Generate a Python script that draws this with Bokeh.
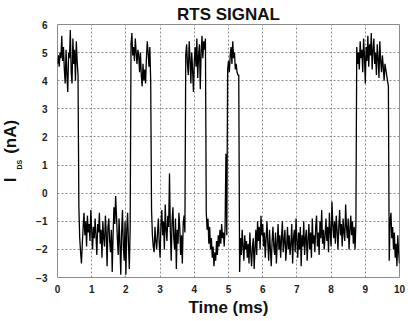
import numpy as np
from bokeh.plotting import figure
from bokeh.models import Range1d, FixedTicker, Title
from bokeh.embed import file_html
from bokeh.resources import INLINE

SAMPLE_MS = 0.025

high_1 = [4.6, 4.9, 4.5, 5.0, 4.8, 5.6, 4.7, 5.2, 4.4, 3.9, 5.1, 4.2, 3.6, 5.0, 4.8,
          5.8, 4.3, 3.9, 5.5, 4.6, 5.1, 4.0, 5.4, 4.7, 4.2]
low_1 = [-0.5, -1.6, -2.1, -2.5, -1.8, -1.2, -0.7, -1.5, -1.0, -1.9, -0.8, -1.4, -1.1,
         -1.7, -0.6, -1.3, -2.0, -1.2, -1.6, -0.9, -1.5, -2.2, -1.1, -1.4, -0.7, -1.8,
         -1.3, -2.3, -1.0, -1.6, -1.9, -0.8, -1.4, -2.6, -1.2, -0.9, -1.7, -2.1, -1.3,
         -2.8, -1.5, -0.5, -1.1, -0.1, -0.8, -1.6, -2.2, -0.9, -1.8, -2.9, -1.4, -0.6,
         -1.9, -2.4, -1.0, -2.9, -1.3, -0.7, -1.8, -2.7, -1.2]
high_2 = [5.3, 5.7, 4.9, 5.2, 4.7, 5.5, 5.0, 4.6, 5.1, 4.9, 4.3, 5.0, 4.2, 3.8, 4.6,
          4.0, 4.4, 3.9, 4.8, 5.4, 5.0, 4.5, 5.2, 4.0]
low_2 = [-0.6, -1.5, -1.9, -2.1, -1.2, -1.7, -2.0, -1.4, -0.9, -1.8, -2.3, -1.1, -0.6,
         -1.5, -1.0, -2.0, -0.4, -1.3, -1.7, -0.8, -1.2, 0.7, -1.4, -2.4, -1.0, -0.5,
         -1.6, -2.0, -0.9, -2.7, -1.3, -1.8, -0.7, -1.2, -2.2, -1.5, -2.5, -1.1, -0.8,
         -1.4]
high_3 = [4.9, 5.3, 4.6, 4.2, 5.4, 4.8, 3.9, 5.0, 4.4, 3.6, 4.7, 5.2, 4.5, 5.5, 4.1,
          4.9, 5.3, 3.7, 5.0, 5.6, 4.8, 5.4, 5.1, 5.5]
low_3 = [-0.7, -1.3, -0.9, -1.8, -1.2, -2.0, -1.6, -2.3, -1.9, -2.6, -2.1, -2.4, -1.7,
         -2.2, -1.5, -1.9, -1.3, -1.8, -1.1, -1.6, -1.4, -1.9, -1.2, 1.4, -1.5]
high_4 = [4.4, 4.7, 4.3, 4.9, 5.2, 4.6, 5.4, 4.8, 5.0, 4.4, 4.6, 4.3, 4.2, 4.2]
low_4 = [-2.8, -1.6, -2.2, -1.3, -1.9, -2.4, -1.5, -2.0, -1.7, -2.3,
         -1.8, -2.5, -1.4, -2.1, -2.6, -1.9, -1.6, -2.7, -2.0, -1.3,
         -2.2, -1.0, -1.7, -1.2, -2.0, -0.8, -1.5, -1.1, -1.9, -1.4,
         -2.3, -1.6, -1.0, -1.8, -2.4, -1.3, -2.0, -2.6, -1.7, -1.2,
         -1.9, -2.2, -1.4, -2.5, -1.8, -1.1, -2.0, -1.5, -2.3, -1.6,
         -1.0, -2.1, -1.7, -1.3, -2.4, -1.9, -1.2, -2.0, -1.5, -2.2,
         -1.8, -1.1, -2.5, -1.6, -1.3, -2.1, -0.9, -1.7, -2.3, -1.4,
         -2.0, -1.2, -2.6, -1.5, -1.9, -1.0, -2.2, -1.6, -1.3, -2.4,
         -1.7, -1.1, -2.0, -1.4, -2.3, -0.9, -1.8, -1.5, -2.1, -1.2,
         -0.8, -1.9, -1.4, -2.2, -1.0, -1.6, -0.6, -1.8, -1.3, -2.0,
         -1.5, -0.9, -1.7, -1.2, -2.1, -0.7, -1.4, -1.9, -0.3, -1.1,
         -1.6, -1.0, -1.8, -0.8, -1.3, -2.0, -1.2, -0.6, -1.5, -1.1,
         -1.9, -0.9, -1.4, -1.7, -0.4, -1.2, -1.6, -0.9, -2.0, -1.3,
         -0.8, -1.5, -1.0, -1.8, -1.2, -2.0, -1.1]
high_5 = [5.2, 4.6, 5.0, 4.4, 5.4, 4.8, 5.1, 4.3, 5.5, 4.9, 3.9, 5.2, 4.7, 5.6, 4.5,
          5.3, 4.9, 5.7, 4.4, 5.1, 5.5, 4.6, 5.0, 4.2, 5.3, 4.8, 4.1, 5.4, 4.7, 4.3,
          4.9, 4.5, 4.0, 4.6, 4.4, 4.2, 4.0, 3.8]
low_5 = [-2.4, -1.0, -0.7, -1.6, -1.2, -2.0, -1.4, -2.3, -1.8, -2.6, -1.5, -2.1, -2.5]

x_ticks = [0, 1, 2, 3, 4, 5, 6, 7, 8, 9, 10]
y_ticks = [-3, -2, -1, 0, 1, 2, 3, 4, 5, 6]

current_na = np.concatenate([high_1, low_1, high_2, low_2, high_3, low_3,
                             high_4, low_4, high_5, low_5])
time_ms = np.arange(len(current_na)) * SAMPLE_MS

FONT = "Liberation Sans"
NBSP = "\u00a0"

p = figure(width=408, height=321, output_backend="svg", toolbar_location=None,
           x_range=Range1d(0, 10), y_range=Range1d(-3, 6),
           min_border_left=57, min_border_right=9, min_border_top=24,
           min_border_bottom=44, background_fill_color="white",
           border_fill_color="white")

p.line(time_ms, current_na, line_color="black", line_width=1.3)

for ax, ticks, standoff in ((p.xaxis, x_ticks, 7), (p.yaxis, y_ticks, 10)):
    ax.ticker = FixedTicker(ticks=ticks)
    ax.major_label_text_font = FONT
    ax.major_label_text_font_size = "10px"
    ax.major_label_text_font_style = "bold"
    ax.major_label_text_color = "#222222"
    ax.major_tick_in = 0
    ax.major_tick_out = 0
    ax.minor_tick_in = 0
    ax.minor_tick_out = 0
    ax.axis_line_color = None
    ax.major_label_standoff = standoff
    ax.axis_label_text_font = FONT
    ax.axis_label_text_font_style = "bold"
    ax.axis_label_text_color = "#111111"

p.xaxis.axis_label = "Time (ms)"
p.xaxis.axis_label_text_font_size = "17px"
p.xaxis.axis_label_standoff = 2

# subscript of the y label, carried by the y axis itself
p.yaxis.axis_label = "DS" + NBSP * 14
p.yaxis.axis_label_text_font_size = "7px"
p.yaxis.axis_label_standoff = 10

p.grid.grid_line_color = "#8c8c8c"
p.grid.grid_line_dash = "2 2"
p.grid.grid_line_width = 1
p.outline_line_color = "#8c8c8c"
p.outline_line_width = 1

p.title.text = "RTS SIGNAL"
p.title.align = "center"
p.title.offset = 15
p.title.text_font = FONT
p.title.text_font_size = "17px"
p.title.text_font_style = "bold"
p.title.text_color = "#111111"
p.title.standoff = 2

ylab = Title(text="I" + NBSP * 5 + "(nA)", align="center", offset=9,
             vertical_align="top",
             text_font=FONT, text_font_size="17px", text_font_style="bold",
             text_color="#111111", standoff=-16)
p.add_layout(ylab, "left")

open("out.html", "w").write(file_html(p, INLINE))
